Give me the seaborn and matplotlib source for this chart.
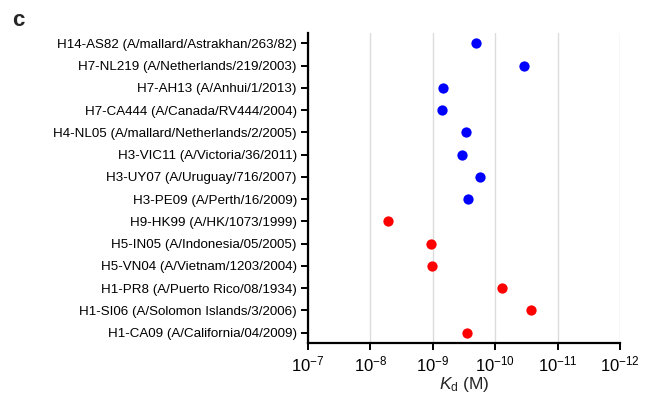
import matplotlib
matplotlib.use("Agg")
import matplotlib.pyplot as plt
import matplotlib.ticker as mticker
import seaborn as sns
import pandas as pd

strains = [
    "H14-AS82 (A/mallard/Astrakhan/263/82)",
    "H7-NL219 (A/Netherlands/219/2003)",
    "H7-AH13 (A/Anhui/1/2013)",
    "H7-CA444 (A/Canada/RV444/2004)",
    "H4-NL05 (A/mallard/Netherlands/2/2005)",
    "H3-VIC11 (A/Victoria/36/2011)",
    "H3-UY07 (A/Uruguay/716/2007)",
    "H3-PE09 (A/Perth/16/2009)",
    "H9-HK99 (A/HK/1073/1999)",
    "H5-IN05 (A/Indonesia/05/2005)",
    "H5-VN04 (A/Vietnam/1203/2004)",
    "H1-PR8 (A/Puerto Rico/08/1934)",
    "H1-SI06 (A/Solomon Islands/3/2006)",
    "H1-CA09 (A/California/04/2009)",
]
kd_molar = [2.0e-10, 3.4e-11, 6.8e-10, 7.0e-10, 2.9e-10, 3.35e-10, 1.77e-10,
            2.69e-10, 5.3e-9, 1.06e-9, 1.03e-9, 7.9e-11, 2.64e-11, 2.8e-10]
group = ["Group 2"] * 8 + ["Group 1"] * 6
palette = {"Group 2": "#0000ff", "Group 1": "#ff0000"}

df = pd.DataFrame({"strain": strains, "kd": kd_molar, "group": group})

sns.set_style("white")
plt.rcParams["font.family"] = ["Liberation Sans", "DejaVu Sans"]
plt.rcParams["mathtext.fontset"] = "custom"
plt.rcParams["mathtext.rm"] = "Liberation Sans"
plt.rcParams["mathtext.it"] = "Liberation Sans:italic"
plt.rcParams["mathtext.bf"] = "Liberation Sans:bold"

fig = plt.figure(figsize=(6.53, 4.03), dpi=100)
ax = fig.add_axes([0.4717, 0.149, 0.4778, 0.769])

sns.stripplot(data=df, x="kd", y="strain", hue="group", palette=palette,
              order=strains, jitter=False, size=7.4, linewidth=0,
              legend=False, ax=ax, zorder=3)

ax.set_xscale("log")
ax.set_xlim(1e-7, 1e-12)
ax.set_ylim(len(strains) - 0.53, -0.47)
ax.xaxis.set_major_locator(mticker.LogLocator(base=10, numticks=10))
ax.xaxis.set_minor_locator(mticker.NullLocator())
ax.grid(axis="x", color="#dcdcdc", linewidth=1.0, zorder=0)
ax.grid(axis="y", visible=False)

for side in ("top", "right"):
    ax.spines[side].set_visible(False)
for side in ("left", "bottom"):
    ax.spines[side].set_color("black")
    ax.spines[side].set_linewidth(1.6)

ax.tick_params(axis="x", which="major", bottom=True, direction="out",
               length=5, width=1.4, labelsize=12, pad=3, colors="black")
ax.tick_params(axis="y", which="major", left=True, direction="out",
               length=5, width=1.4, labelsize=9.6, pad=3, colors="black")

ax.set_ylabel("")
ax.set_xlabel(r"$K_\mathrm{d}$ (M)", fontsize=12.5, labelpad=1)

fig.text(0.019, 0.948, "c", fontsize=16, fontweight="bold", va="center", ha="left")

fig.savefig("out.png", dpi=100)
